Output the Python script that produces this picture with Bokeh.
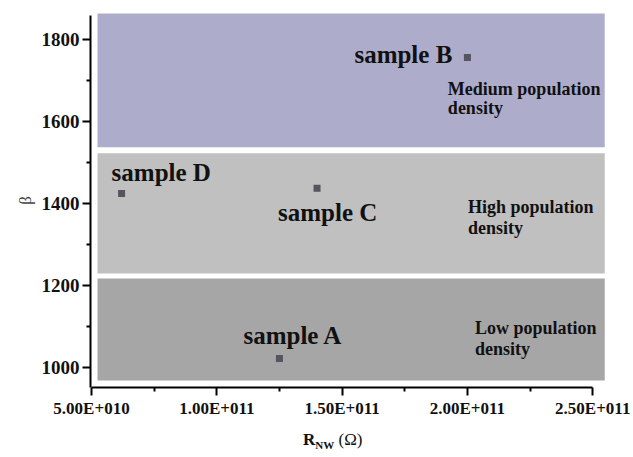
from bokeh.plotting import figure
from bokeh.models import ColumnDataSource, FixedTicker, Range1d, Div
from bokeh.layouts import column
from bokeh.core.properties import value
from bokeh.embed import file_html
from bokeh.resources import INLINE

# ---- data ----
samples = ["sample A", "sample B", "sample C", "sample D"]
r_nw = [1.25e11, 2.00e11, 1.40e11, 6.2e10]
beta = [1022, 1756, 1437, 1424]

bands = ["Low population density", "High population density", "Medium population density"]
band_bottom = [968, 1229, 1537]
band_top = [1217, 1522, 1865]
band_left = [5.24e10, 5.24e10, 5.24e10]
band_right = [2.548e11, 2.548e11, 2.548e11]
band_colors = ["#a6a6a6", "#c0c0c0", "#adadcb"]

x_ticks = [5e10, 1e11, 1.5e11, 2e11, 2.5e11]
x_tick_labels = ["5.00E+010", "1.00E+011", "1.50E+011", "2.00E+011", "2.50E+011"]
x_minor = [7.5e10, 1.25e11, 1.75e11, 2.25e11]
y_ticks = [1000, 1200, 1400, 1600, 1800]
y_minor = [1100, 1300, 1500, 1700]

# ---- figure ----
p = figure(width=633, height=430, output_backend="svg", toolbar_location=None,
           x_range=Range1d(4.96e10, 2.555e11), y_range=Range1d(951, 1863),
           min_border_left=90, min_border_right=27, min_border_top=13, min_border_bottom=43)
p.outline_line_color = None
p.grid.visible = False
p.background_fill_color = "white"
p.border_fill_color = "white"

p.quad(left=band_left, right=band_right, bottom=band_bottom, top=band_top,
       fill_color=band_colors, line_color=None)

src = ColumnDataSource(dict(x=r_nw, y=beta, name=samples,
                            dx=[-36, -113, -39, -10], dy=[-23, -3, 24, -21]))
p.scatter("x", "y", source=src, marker="square", size=7, fill_color="#555560", line_color=None)
p.text("x", "y", text="name", source=src, x_offset="dx", y_offset="dy",
       text_font=value("Liberation Serif"), text_font_style="bold", text_font_size="25px",
       text_color="#111111", text_align="left", text_baseline="alphabetic")

# region labels (two lines each)
reg_lines = ["Medium population", "density", "High population", "density", "Low population", "density"]
reg_x = [1.922e11, 1.922e11, 2.002e11, 2.002e11, 2.03e11, 2.03e11]
reg_y = [1680, 1632, 1390, 1341, 1095, 1046]
p.text(reg_x, reg_y, text=reg_lines, text_font=value("Liberation Serif"), text_font_style="bold",
       text_font_size="18px", text_color="#111111", text_align="left", text_baseline="alphabetic")

# axes
xa = p.xaxis[0]
xa.ticker = FixedTicker(ticks=x_ticks, minor_ticks=x_minor)
xa.major_label_overrides = {t: l for t, l in zip(x_ticks, x_tick_labels)}
xa.bounds = (5e10, 2.5e11)
ya = p.yaxis[0]
ya.ticker = FixedTicker(ticks=y_ticks, minor_ticks=y_minor)
ya.bounds = (951, 1858)
ya.axis_label = "β"
ya.axis_label_text_font = "Liberation Serif"
ya.axis_label_text_font_style = "normal"
ya.axis_label_text_font_size = "17px"
ya.axis_label_standoff = 4

for ax in (xa, ya):
    ax.axis_line_width = 2
    ax.axis_line_color = "black"
    ax.major_tick_line_width = 2
    ax.minor_tick_line_width = 2
    ax.major_tick_out = 8
    ax.major_tick_in = 0
    ax.minor_tick_out = 4
    ax.minor_tick_in = 0
    ax.major_label_text_font = "Liberation Serif"
    ax.major_label_text_font_style = "bold"
    ax.major_label_text_font_size = "17px"
    ax.major_label_text_color = "#111111"
    ax.major_label_standoff = 3
ya.major_label_text_font_size = "19px"

# x-axis label R_NW (Ω)
xlabel = Div(text='<span style="font-weight:bold">R</span><sub style="font-weight:bold;font-size:11px">NW</sub>'
                  '<span> (Ω)</span>',
             width=633, height=27, margin=0,
             styles={"font-family": "Liberation Serif", "font-size": "17px", "color": "#111111",
                     "padding-left": "303px", "line-height": "20px", "box-sizing": "border-box"})

layout = column(p, xlabel, spacing=0, margin=0)
open("out.html", "w").write(file_html(layout, INLINE))
